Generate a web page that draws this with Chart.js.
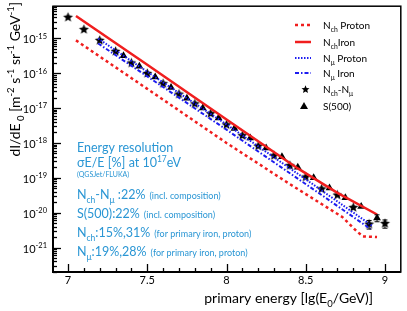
<!DOCTYPE html>
<html>
<head>
<meta charset="utf-8">
<script src="https://cdn.jsdelivr.net/npm/chart.js@4.4.1/dist/chart.umd.min.js"></script>
<style>
  html, body { margin: 0; padding: 0; background: #fff; }
  canvas { display: block; }
</style>
</head>
<body>
<canvas id="spectrum" width="407" height="311"></canvas>
<script>
const FONT = 'Lato, "Open Sans", sans-serif';
const TXT_BLUE = '#2a96d4';
const RED = '#f01e1e';
const BLUE = '#1c1cf0';

// simulated spectra (lines)
const nchIronX   = [7.05, 7.5, 8.0, 8.45, 8.7, 8.95];
const nchIronY   = [4.37e-15, 1.74e-16, 4.68e-18, 1.86e-19, 3.7e-20, 8.9e-21];
const nchProtonX = [7.05, 7.5, 8.0, 8.4, 8.6, 8.73, 8.82, 8.86, 8.95];
const nchProtonY = [8.7e-16, 3.55e-17, 1.0e-18, 6.6e-20, 1.78e-20, 7.6e-21, 3.0e-21, 2.1e-21, 2.0e-21];
const nmuProtonX = [7.19, 7.6, 8.0, 8.55, 8.92];
const nmuProtonY = [9.8e-16, 5.4e-17, 3.4e-18, 6.3e-20, 4.2e-21];
const nmuIronX   = [7.19, 7.6, 8.0, 8.57, 8.91];
const nmuIronY   = [7.1e-16, 4.0e-17, 2.4e-18, 4.0e-20, 3.4e-21];

// reconstructed spectra (markers)
const starX = [7.0, 7.1, 7.2, 7.3, 7.4, 7.5, 7.6, 7.7, 7.8, 7.9, 8.0, 8.1, 8.2, 8.3, 8.4, 8.5, 8.6, 8.7, 8.8, 8.9, 9.0];
const starY = [3.98e-15, 1.78e-15, 8.7e-16, 4.2e-16, 1.95e-16, 9.8e-17, 5.0e-17, 2.5e-17, 1.32e-17, 6.9e-18,
               3.3e-18, 1.62e-18, 8.1e-19, 4.3e-19, 2.24e-19, 1.05e-19, 4.8e-20, 3.2e-20, 1.41e-20, 4.7e-21, 4.9e-21];
const starErr = [0, 0, 0, 0, 0, 0, 0, 0, 0, 0, 0, 0, 0, 0, 0, 0, 0, 0, 0, 1.3e-21, 1.3e-21];
const triX = [7.35, 7.45, 7.55, 7.65, 7.75, 7.85, 7.95, 8.05, 8.15, 8.25, 8.35, 8.45, 8.55, 8.65, 8.75, 8.85, 8.95];
const triY = [3.16e-16, 1.58e-16, 7.8e-17, 3.9e-17, 1.9e-17, 1.0e-17, 5.2e-18, 2.6e-18, 1.38e-18, 7.2e-19,
              4.0e-19, 2.0e-19, 1.0e-19, 5.1e-20, 2.7e-20, 1.5e-20, 7.1e-21];
const triErr = [0, 0, 0, 0, 0, 0, 0, 0, 0, 0, 0, 0, 0, 0, 0, 0, 1.6e-21];

const xMajor = [7, 7.5, 8, 8.5, 9];
const yMajorExp = [-15, -16, -17, -18, -19, -20, -21];

const legendItems = ['N_{ch} Proton', 'N_{ch}Iron', 'N_{\u03bc} Proton', 'N_{\u03bc} Iron', 'N_{ch}-N_{\u03bc}', 'S(500)'];
const noteLines = [
  ['Energy resolution', ''],
  ['\u03c3E/E [%] at 10^{17}eV', ''],
  ['N_{ch}-N_{\u03bc} :22%', '(incl. composition)'],
  ['S(500):22%', '(incl. composition)'],
  ['N_{ch}:15%,31%', '(for primary iron, proton)'],
  ['N_{\u03bc}:19%,28%', '(for primary iron, proton)']
];

function pts(xs, ys) { return xs.map((x, i) => ({ x: x, y: ys[i] })); }

function makeStar(r) {
  const c = document.createElement('canvas');
  const s = Math.ceil(r * 2 + 2);
  c.width = c.height = s;
  const g = c.getContext('2d');
  g.beginPath();
  for (let k = 0; k < 10; k++) {
    const a = -Math.PI / 2 + k * Math.PI / 5;
    const rr = k % 2 ? r * 0.45 : r;
    g.lineTo(s / 2 + rr * Math.cos(a), s / 2 + rr * Math.sin(a));
  }
  g.closePath();
  g.fillStyle = '#000';
  g.fill();
  return c;
}
const starImg = makeStar(5.2);

// tiny markup: _{sub} ^{sup}
function parseRich(s) {
  const parts = [];
  let buf = '', i = 0;
  while (i < s.length) {
    if ((s[i] === '_' || s[i] === '^') && s[i + 1] === '{') {
      if (buf) { parts.push({ t: buf, k: 0 }); buf = ''; }
      const end = s.indexOf('}', i);
      parts.push({ t: s.slice(i + 2, end), k: s[i] === '_' ? 1 : 2 });
      i = end + 1;
    } else { buf += s[i]; i++; }
  }
  if (buf) parts.push({ t: buf, k: 0 });
  return parts;
}

function richText(ctx, s, x, y, size, align) {
  const parts = parseRich(s);
  const small = size * 0.68;
  let w = 0;
  parts.forEach(p => {
    ctx.font = (p.k ? small : size) + 'px ' + FONT;
    p.w = ctx.measureText(p.t).width;
    w += p.w;
  });
  let cx = align === 'right' ? x - w : align === 'center' ? x - w / 2 : x;
  ctx.textAlign = 'left';
  ctx.textBaseline = 'alphabetic';
  parts.forEach(p => {
    ctx.font = (p.k ? small : size) + 'px ' + FONT;
    const dy = p.k === 1 ? size * 0.28 : p.k === 2 ? -size * 0.42 : 0;
    ctx.fillText(p.t, cx, y + dy);
    cx += p.w;
  });
  return w;
}

const errorBars = {
  id: 'errorBars',
  afterDatasetsDraw(chart) {
    const ctx = chart.ctx, xs = chart.scales.x, ys = chart.scales.y;
    ctx.save();
    ctx.strokeStyle = '#000';
    ctx.lineWidth = 1;
    [[starX, starY, starErr], [triX, triY, triErr]].forEach(([X, Y, E]) => {
      X.forEach((x, i) => {
        if (!E[i]) return;
        const px = xs.getPixelForValue(x);
        const y1 = ys.getPixelForValue(Y[i] + E[i]);
        const y2 = ys.getPixelForValue(Y[i] - E[i]);
        ctx.beginPath();
        ctx.moveTo(px, y1); ctx.lineTo(px, y2);
        ctx.moveTo(px - 2.5, y1); ctx.lineTo(px + 2.5, y1);
        ctx.moveTo(px - 2.5, y2); ctx.lineTo(px + 2.5, y2);
        ctx.stroke();
      });
    });
    ctx.restore();
  }
};

const frameAndText = {
  id: 'frameAndText',
  afterDraw(chart) {
    const ctx = chart.ctx, a = chart.chartArea;
    const xs = chart.scales.x, ys = chart.scales.y;
    ctx.save();
    ctx.strokeStyle = '#000';
    ctx.fillStyle = '#000';

    // frame
    ctx.lineWidth = 1.5;
    ctx.strokeRect(a.left, a.top, a.right - a.left, a.bottom - a.top);
    ctx.lineWidth = 2;
    ctx.beginPath();
    ctx.moveTo(a.left, a.top); ctx.lineTo(a.left, a.bottom); ctx.lineTo(a.right, a.bottom);
    ctx.stroke();

    // x ticks (inward)
    ctx.lineWidth = 1.3;
    for (let k = 70; k <= 90; k++) {
      const v = k / 10;
      const px = Math.round(xs.getPixelForValue(v)) + 0.5;
      const major = xMajor.some(m => Math.abs(m - v) < 1e-6);
      ctx.beginPath();
      ctx.moveTo(px, a.bottom); ctx.lineTo(px, a.bottom - (major ? 8 : 4));
      ctx.stroke();
    }
    xMajor.forEach(v => richText(ctx, String(v), xs.getPixelForValue(v), 284, 11, 'center'));

    // y ticks (inward, log)
    for (let e = -22; e <= -15; e++) {
      for (let m = 1; m <= 9; m++) {
        const v = m * Math.pow(10, e);
        if (v < ys.min || v > ys.max) continue;
        const py = Math.round(ys.getPixelForValue(v)) + 0.5;
        ctx.beginPath();
        ctx.moveTo(a.left, py); ctx.lineTo(a.left + (m === 1 ? 8 : 4), py);
        ctx.stroke();
      }
    }
    yMajorExp.forEach(e => richText(ctx, '10^{' + e + '}', 47, ys.getPixelForValue(Math.pow(10, e)) + 5, 11, 'right'));

    // axis titles
    richText(ctx, 'primary energy [lg(E_{0}/GeV)]', 373, 303, 14, 'right');
    ctx.save();
    ctx.translate(20, 2);
    ctx.rotate(-Math.PI / 2);
    richText(ctx, 'dI/dE_{ 0} [m^{-2} s^{-1} sr^{-1} GeV^{-1}]', 0, 0, 14, 'right');
    ctx.restore();

    // legend
    const rows = [25, 42, 58, 73, 89, 106];
    const lx0 = 295, lx1 = 311, tx = 323;
    const styles = [
      { c: RED, w: 2.5, d: [3, 3] },
      { c: RED, w: 2.5, d: [] },
      { c: BLUE, w: 2, d: [1.5, 1.5] },
      { c: BLUE, w: 2, d: [4, 2, 1.5, 2] }
    ];
    styles.forEach((s, i) => {
      ctx.strokeStyle = s.c; ctx.lineWidth = s.w; ctx.setLineDash(s.d);
      ctx.beginPath(); ctx.moveTo(lx0, rows[i]); ctx.lineTo(lx1, rows[i]); ctx.stroke();
    });
    ctx.setLineDash([]);
    ctx.drawImage(makeStar(4.2), 305 - 5, rows[4] - 5);
    ctx.fillStyle = '#000';
    ctx.beginPath();
    ctx.moveTo(304, rows[5] - 4); ctx.lineTo(308, rows[5] + 3); ctx.lineTo(300, rows[5] + 3);
    ctx.closePath(); ctx.fill();
    legendItems.forEach((t, i) => richText(ctx, t, tx, rows[i] + 4, 10, 'left'));

    // resolution note
    ctx.fillStyle = TXT_BLUE;
    const base = [152, 167, 199, 218, 237, 256];
    noteLines.forEach((ln, i) => {
      const w = richText(ctx, ln[0], 77, base[i], 12.5, 'left');
      if (ln[1]) richText(ctx, ln[1], 77 + w + 4, base[i], 9, 'left');
    });
    richText(ctx, '(QGSJet/FLUKA)', 77, 177, 7, 'left');
    ctx.restore();
  }
};

new Chart(document.getElementById('spectrum'), {
  type: 'scatter',
  data: {
    datasets: [
      { label: 'Nch Proton', data: pts(nchProtonX, nchProtonY), showLine: true, borderColor: RED, borderWidth: 2.5, borderDash: [3, 3], pointRadius: 0 },
      { label: 'Nch Iron', data: pts(nchIronX, nchIronY), showLine: true, borderColor: RED, borderWidth: 2.5, pointRadius: 0 },
      { label: 'Nmu Proton', data: pts(nmuProtonX, nmuProtonY), showLine: true, borderColor: BLUE, borderWidth: 2, borderDash: [1.5, 1.5], pointRadius: 0 },
      { label: 'Nmu Iron', data: pts(nmuIronX, nmuIronY), showLine: true, borderColor: BLUE, borderWidth: 2, borderDash: [4, 2, 1.5, 2], pointRadius: 0 },
      { label: 'Nch-Nmu', data: pts(starX, starY), pointStyle: starImg, pointRadius: 5.2 },
      { label: 'S(500)', data: pts(triX, triY), pointStyle: 'triangle', pointRadius: 4.5, backgroundColor: '#000', borderColor: '#000', borderWidth: 0 }
    ]
  },
  options: {
    responsive: false,
    animation: false,
    devicePixelRatio: 1,
    layout: { padding: { left: 53, top: 1, right: 2, bottom: 39 } },
    plugins: { legend: { display: false }, tooltip: { enabled: false } },
    scales: {
      x: { type: 'linear', min: 6.905, max: 9.1, display: false },
      y: { type: 'logarithmic', min: 2.0e-22, max: 8.3e-15, display: false }
    }
  },
  plugins: [errorBars, frameAndText]
});
</script>
</body>
</html>
